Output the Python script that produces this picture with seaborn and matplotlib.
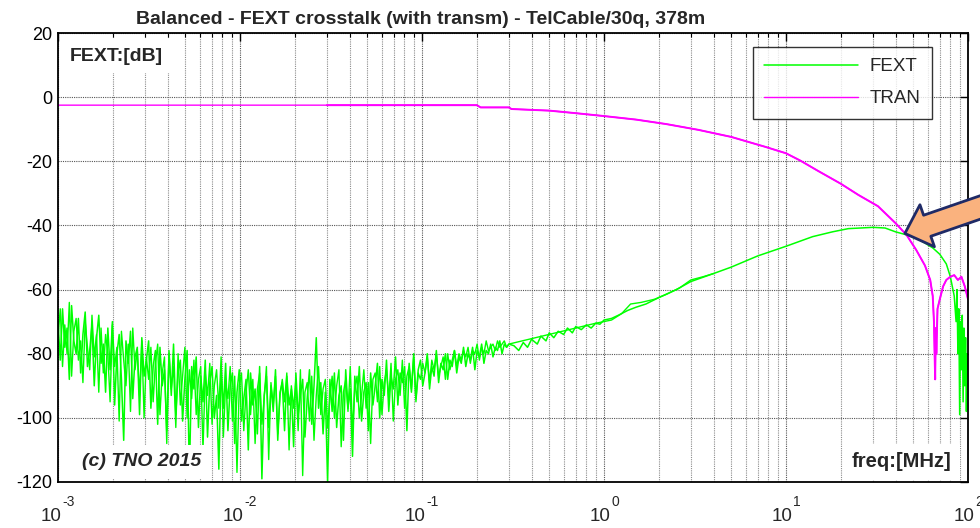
"""Balanced FEXT crosstalk vs. transmission for TelCable/30q (378 m)."""

import matplotlib

matplotlib.use("Agg")

import numpy as np
import pandas as pd
import matplotlib.pyplot as plt
from matplotlib.ticker import FixedLocator, LogLocator, NullFormatter
from matplotlib.transforms import blended_transform_factory, offset_copy
import seaborn as sns


TITLE = "Balanced - FEXT crosstalk (with transm) - TelCable/30q, 378m"
GREEN = "#00FF00"
MAGENTA = "#FF00FF"
ARROW_FILL = "#FAB27E"
ARROW_EDGE = "#1F2A66"

# noisy low-frequency FEXT (two pairs), equally spaced in log(f) between the limits
FEXT_NOISE_START_MHZ = 1e-3
FEXT_NOISE_STOP_MHZ = 0.3
FEXT_NOISE_A_DB = [
    -70, -82, -66, -78, -72, -88, -65, -76, -80, -69, -86, -74, -67, -84, -79, -71, -90, -75, -68, -83,
    -77, -92, -72, -85, -70, -96, -80, -74, -88, -107, -76, -83, -73, -94, -81, -78, -99, -75, -87, -82,
    -76, -97, -84, -79, -102, -78, -90, -85, -104, -80, -93, -77, -99, -86, -82, -101, -88, -79, -118, -84,
    -91, -81, -103, -87, -95, -82, -106, -89, -84, -100, -93, -116, -85, -97, -83, -104, -90, -86, -108, -92,
    -85, -101, -94, -88, -110, -86, -96, -91, -105, -84, -119, -93, -87, -103, -90, -98, -85, -107, -92, -89,
    -104, -87, -96, -91, -109, -86, -99, -93, -88, -106, -94, -85, -102, -90, -75, -97, -89, -105, -92, -120,
    -88, -98, -86, -103, -93, -90, -107, -85, -97, -91, -112, -87, -95, -84, -101, -92, -89, -104, -86, -96,
    -90, -83, -100, -88, -93, -82, -98, -87, -91, -81, -96, -86, -89, -84, -104, -83, -92, -80, -94, -85,
    -82, -90, -86, -80, -91, -84, -87, -79, -89, -83, -85, -80, -88, -82, -84, -79, -86, -81, -83, -78,
    -84, -80, -82, -78, -85, -79, -81, -77, -83, -79, -80, -77, -81, -78, -79, -76, -80, -77, -78, -77,
]
FEXT_NOISE_B_DB = [
    -75, -66, -84, -71, -80, -64, -87, -73, -69, -82, -76, -89, -70, -78, -85, -68, -81, -74, -92, -72,
    -86, -74, -80, -95, -71, -84, -78, -101, -73, -82, -90, -77, -98, -72, -85, -79, -93, -76, -100, -81,
    -88, -78, -95, -83, -77, -99, -86, -81, -108, -79, -91, -84, -103, -80, -96, -87, -78, -100, -85, -94,
    -82, -99, -88, -84, -110, -86, -93, -83, -102, -90, -85, -97, -81, -106, -89, -94, -84, -101, -87, -117,
    -90, -86, -104, -92, -85, -99, -88, -108, -91, -86, -102, -94, -84, -113, -89, -96, -87, -105, -93, -88,
    -95, -86, -110, -90, -97, -88, -104, -85, -118, -92, -89, -101, -87, -107, -93, -84, -99, -91, -88, -103,
    -94, -87, -100, -90, -85, -109, -92, -88, -98, -84, -104, -91, -87, -100, -93, -85, -97, -89, -108, -88,
    -86, -95, -84, -99, -89, -85, -94, -83, -101, -88, -85, -93, -82, -97, -87, -84, -91, -81, -95, -86,
    -88, -83, -86, -81, -89, -82, -85, -80, -87, -84, -81, -88, -80, -85, -82, -79, -84, -80, -82, -79,
    -81, -78, -83, -79, -80, -77, -82, -78, -80, -76, -79, -78, -77, -79, -76, -78, -77, -76, -78, -77,
]

FEXT_FREQ_MHZ = [
    0.32, 0.34, 0.36, 0.38, 0.40, 0.43, 0.45, 0.48, 0.50, 0.53, 0.56, 0.60, 0.63, 0.67, 0.70, 0.75,
    0.80, 0.85, 0.90, 0.95, 1.0, 1.1, 1.2, 1.35, 1.5, 1.7,
    2.0, 2.5, 3.0, 4.0, 5.0, 7.0, 10, 14, 18, 22, 26, 30, 35, 40, 45, 52, 58, 64, 70, 76, 80, 84,
    86, 87, 88, 89, 90, 91, 92, 93, 94, 95, 96, 97, 98, 99, 100,
]
FEXT_DB = [
    -77.5, -79, -76.5, -78, -75.5, -77, -74.5, -76, -73.5, -75, -73, -74, -72, -73.5, -71.5, -72.5,
    -71, -72, -70.5, -70.8, -69.5, -69, -68, -66.5, -65.5, -64.5,
    -62.5, -60, -57.5, -55, -53, -49.5, -46.5, -43.5, -42, -41, -40.8, -40.6, -40.8, -42, -42.8, -44,
    -45.5, -47, -49, -52, -56, -62,
    -70, -60, -80, -66, -99, -70, -85, -68, -95, -72, -90, -75, -98, -80, -85,
]
# the second pair separates slightly between 1 and 4 MHz
FEXT_B_FREQ_MHZ = [0.9, 1.1, 1.25, 1.4, 1.6, 1.9, 2.2, 2.6, 3.0, 3.5, 4.0]
FEXT_B_DB = [-70.5, -69.5, -67.5, -64.5, -64.0, -63.0, -61.5, -59.5, -57.0, -56.0, -55.0]

TRAN_FREQ_MHZ = [
    0.001, 0.2, 0.21, 0.3, 0.31, 0.5, 0.7, 1.0, 1.5, 2.2, 3.3, 5.0, 7.7, 10, 12, 15, 20, 25, 32, 40,
    46, 52, 58, 62, 64, 65, 66, 66.5, 67, 68, 70, 73, 76, 80, 84, 88, 92, 96, 100,
]
TRAN_DB = [
    -2.5, -2.5, -3.2, -3.2, -3.7, -4.2, -5.0, -5.9, -7.0, -8.4, -10.2, -12.4, -15.5, -17.5, -19.8, -23,
    -27, -30.5, -34, -39.3, -43, -47.7, -52.5, -57, -62, -70, -88, -72, -80, -66, -63, -59, -57, -56,
    -55.5, -57, -56, -59, -63,
]
TRAN_SECOND_START_MHZ = 0.03

X_TICKS = [1e-3, 1e-2, 1e-1, 1e0, 1e1, 1e2]
X_TICK_EXPONENTS = ["-3", "-2", "-1", "0", "1", "2"]
Y_TICKS = [-120, -100, -80, -60, -40, -20, 0, 20]

sns.set_theme(style="white")
plt.rcParams["font.family"] = ["Liberation Sans", "DejaVu Sans"]
plt.rcParams["axes.unicode_minus"] = False


def build_frames():
    noise_freq = np.geomspace(FEXT_NOISE_START_MHZ, FEXT_NOISE_STOP_MHZ, len(FEXT_NOISE_A_DB))
    fext = pd.concat(
        [
            pd.DataFrame({"freq": noise_freq, "db": FEXT_NOISE_A_DB}),
            pd.DataFrame({"freq": FEXT_FREQ_MHZ, "db": FEXT_DB}),
        ],
        ignore_index=True,
    )
    fext_b = pd.concat(
        [
            pd.DataFrame({"freq": noise_freq, "db": FEXT_NOISE_B_DB}),
            pd.DataFrame({"freq": FEXT_B_FREQ_MHZ, "db": FEXT_B_DB}),
        ],
        ignore_index=True,
    )
    tran = pd.DataFrame({"freq": TRAN_FREQ_MHZ, "db": TRAN_DB})
    # second pair only measured from 30 kHz upward, overlaps the first
    tran_second = tran[tran["freq"] >= TRAN_SECOND_START_MHZ].copy()
    tran_second = pd.concat(
        [pd.DataFrame({"freq": [TRAN_SECOND_START_MHZ], "db": [TRAN_DB[0]]}), tran_second],
        ignore_index=True,
    )
    return fext, fext_b, tran, tran_second


def _matlab_log_labels(fig, ax):
    """Matlab-style '10' with a raised exponent, the pair centred on the tick."""
    base = blended_transform_factory(ax.transData, ax.transAxes)
    ten_width, gap = 20.9, 1.0
    for tick, exponent in zip(X_TICKS, X_TICK_EXPONENTS):
        exp_width = sum(4.6 if ch == "-" else 7.7 for ch in exponent)
        ten_right = (ten_width - gap - exp_width) / 2
        ax.text(tick, 0, "10", transform=offset_copy(base, fig=fig, x=ten_right, y=-26, units="dots"),
                ha="right", va="top", fontsize=13.5, clip_on=False)
        ax.text(tick, 0, exponent,
                transform=offset_copy(base, fig=fig, x=ten_right + gap, y=-13, units="dots"),
                ha="left", va="top", fontsize=10, clip_on=False)


def main():
    fext, fext_b, tran, tran_second = build_frames()

    fig = plt.figure(figsize=(9.8, 5.28), dpi=100)
    ax = fig.add_axes([58 / 980, 46 / 528, 910 / 980, 449 / 528])
    ax.set_xscale("log")

    sns.lineplot(data=fext, x="freq", y="db", color=GREEN, linewidth=1.1, sort=False,
                 estimator=None, label="FEXT", ax=ax)
    sns.lineplot(data=fext_b, x="freq", y="db", color=GREEN, linewidth=1.0, sort=False,
                 estimator=None, label="_nolegend_", ax=ax)
    sns.lineplot(data=tran, x="freq", y="db", color=MAGENTA, linewidth=1.0, sort=False,
                 estimator=None, label="TRAN", ax=ax)
    sns.lineplot(data=tran_second, x="freq", y="db", color=MAGENTA, linewidth=1.4, sort=False,
                 estimator=None, label="_nolegend_", ax=ax)

    ax.set_xlim(1e-3, 1e2)
    ax.set_ylim(-120, 20)
    ax.xaxis.set_major_locator(FixedLocator(X_TICKS))
    ax.xaxis.set_major_formatter(NullFormatter())
    ax.xaxis.set_minor_locator(LogLocator(base=10, subs=range(2, 10), numticks=20))
    ax.xaxis.set_minor_formatter(NullFormatter())
    ax.set_yticks(Y_TICKS)
    ax.set_yticklabels([str(v) for v in Y_TICKS])
    ax.set_xlabel("")
    ax.set_ylabel("")
    _matlab_log_labels(fig, ax)

    ax.grid(which="major", color="#555555", linestyle=(0, (1, 1)), linewidth=0.8)
    ax.grid(which="minor", axis="x", color="#8C8C8C", linestyle=(0, (1, 1)), linewidth=0.8)
    ax.set_axisbelow(True)
    ax.tick_params(which="both", direction="in", top=True, right=True, colors="black")
    ax.tick_params(which="major", length=6, width=1)
    ax.tick_params(which="minor", length=3, width=0.8)
    ax.tick_params(axis="y", labelsize=13, pad=4)
    for spine in ax.spines.values():
        spine.set_color("black")
        spine.set_linewidth(1.3)

    legend = ax.legend(loc="upper right", bbox_to_anchor=(0.960, 0.969), borderaxespad=0,
                       frameon=True, fancybox=False, edgecolor="black", fontsize=13.5,
                       handlelength=5.0, labelspacing=0.8, borderpad=0.6, handletextpad=0.6)
    legend.get_frame().set_linewidth(1.0)

    box = dict(facecolor="white", edgecolor="none", pad=6)
    ax.text(0.013, 0.948, "FEXT:[dB]", transform=ax.transAxes, fontsize=14, fontweight="bold",
            ha="left", va="center", bbox=box, zorder=5)
    ax.text(0.026, 0.045, "(c) TNO 2015", transform=ax.transAxes, fontsize=14, fontweight="bold",
            fontstyle="italic", ha="left", va="center", bbox=box, zorder=5)
    ax.text(0.982, 0.045, "freq:[MHz]", transform=ax.transAxes, fontsize=14.5, fontweight="bold",
            ha="right", va="center", bbox=box, zorder=5)

    ax.annotate(
        "", xy=(45, -42.5), xycoords="data", xytext=(1025, 336), textcoords="figure pixels",
        arrowprops=dict(arrowstyle="simple,head_length=0.85,head_width=1.6,tail_width=0.8",
                        mutation_scale=20, fc=ARROW_FILL, ec=ARROW_EDGE, lw=2,
                        shrinkA=0, shrinkB=0),
        annotation_clip=False, zorder=6,
    )

    fig.text(421 / 980, 1 - 20 / 528, TITLE, ha="center", va="center", fontsize=14,
             fontweight="bold")

    fig.savefig("out.png", dpi=100)
    plt.close(fig)


if __name__ == "__main__":
    main()
